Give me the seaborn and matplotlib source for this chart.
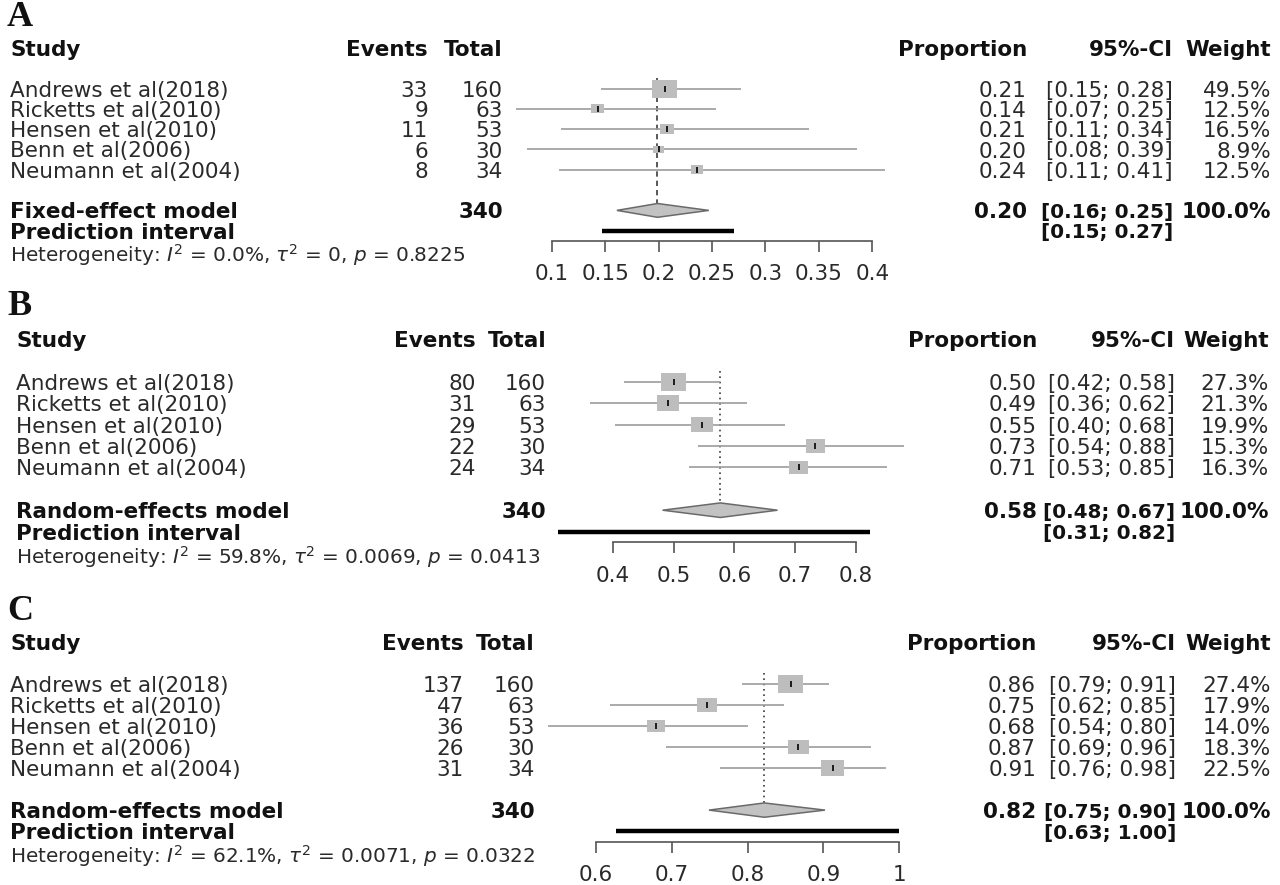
import numpy as np
import pandas as pd
import matplotlib
matplotlib.use("Agg")
import matplotlib.pyplot as plt
import seaborn as sns
from matplotlib.path import Path
from matplotlib.transforms import blended_transform_factory

# ---------------- data ----------------
studies = ["Andrews et al(2018)", "Ricketts et al(2010)", "Hensen et al(2010)",
           "Benn et al(2006)", "Neumann et al(2004)"]
totals = [160, 63, 53, 30, 34]
total_n = 340
pooled_weight = 100.0

events_a = [33, 9, 11, 6, 8]
prop_a = [0.206, 0.143, 0.208, 0.200, 0.236]
lower_a = [0.146, 0.067, 0.109, 0.077, 0.107]
upper_a = [0.277, 0.254, 0.341, 0.386, 0.412]
weight_a = [49.5, 12.5, 16.5, 8.9, 12.5]
pooled_a = [0.199, 0.161, 0.247]
pred_a = [0.147, 0.271]
het_a = ["0.0%", "0", "0.8225"]
model_a = "Fixed-effect model"
ticks_a = [0.1, 0.15, 0.2, 0.25, 0.3, 0.35, 0.4]
ticklabels_a = ["0.1", "0.15", "0.2", "0.25", "0.3", "0.35", "0.4"]

events_b = [80, 31, 29, 22, 24]
prop_b = [0.500, 0.491, 0.547, 0.733, 0.706]
lower_b = [0.419, 0.363, 0.404, 0.540, 0.526]
upper_b = [0.576, 0.621, 0.684, 0.879, 0.851]
weight_b = [27.3, 21.3, 19.9, 15.3, 16.3]
pooled_b = [0.577, 0.482, 0.671]
pred_b = [0.310, 0.823]
het_b = ["59.8%", "0.0069", "0.0413"]
model_b = "Random-effects model"
ticks_b = [0.4, 0.5, 0.6, 0.7, 0.8]
ticklabels_b = ["0.4", "0.5", "0.6", "0.7", "0.8"]

events_c = [137, 47, 36, 26, 31]
prop_c = [0.857, 0.746, 0.679, 0.867, 0.912]
lower_c = [0.792, 0.619, 0.537, 0.692, 0.763]
upper_c = [0.907, 0.848, 0.801, 0.963, 0.982]
weight_c = [27.4, 17.9, 14.0, 18.3, 22.5]
pooled_c = [0.822, 0.749, 0.902]
pred_c = [0.627, 1.000]
het_c = ["62.1%", "0.0071", "0.0322"]
model_c = "Random-effects model"
ticks_c = [0.6, 0.7, 0.8, 0.9, 1.0]
ticklabels_c = ["0.6", "0.7", "0.8", "0.9", "1"]

panels = [
    dict(letter="A", events=events_a, prop=prop_a, lower=lower_a, upper=upper_a,
         weight=weight_a, pooled=pooled_a, pred=pred_a, het=het_a, model=model_a,
         ticks=ticks_a, ticklabels=ticklabels_a),
    dict(letter="B", events=events_b, prop=prop_b, lower=lower_b, upper=upper_b,
         weight=weight_b, pooled=pooled_b, pred=pred_b, het=het_b, model=model_b,
         ticks=ticks_b, ticklabels=ticklabels_b),
    dict(letter="C", events=events_c, prop=prop_c, lower=lower_c, upper=upper_c,
         weight=weight_c, pooled=pooled_c, pred=pred_c, het=het_c, model=model_c,
         ticks=ticks_c, ticklabels=ticklabels_c),
]

# ---------------- layout (pixels) ----------------
layouts = [
    dict(header_y=48.0, step=20.3, left=10, ev_r=428, tot_r=503, prop_r=1027,
         ci_r=1173, w_r=1271, axis=(551.7, 872.3), letter_y=17, ls=(0, (3.2, 2.4))),
    dict(header_y=339.0, step=21.4, left=16, ev_r=476, tot_r=546, prop_r=1037,
         ci_r=1175, w_r=1269, axis=(612.7, 856.0), letter_y=307, ls=(0, (1.0, 2.2))),
    dict(header_y=641.7, step=21.05, left=10, ev_r=464, tot_r=535, prop_r=1036,
         ci_r=1176, w_r=1271, axis=(596.0, 899.3), letter_y=611, ls=(0, (1.0, 2.2))),
]

W, H = 1280, 885
FS = 15.5
FS_HET = 14.4
FS_BCI = 14.4
TXT = "#2a2a2a"
BOLD = "#111111"

sns.set_theme(style="white")
plt.rcParams["font.family"] = ["DejaVu Sans"]
plt.rcParams["mathtext.fontset"] = "dejavusans"

fig = plt.figure(figsize=(12.8, 8.85), dpi=100)
fig.patch.set_facecolor("white")


def fx(px):
    return px / W


def fy(py):
    return 1 - py / H


rect = Path([(-0.7, -0.5), (0.7, -0.5), (0.7, 0.5), (-0.7, 0.5), (-0.7, -0.5)], closed=True)
DH = 0.34

for P, L in zip(panels, layouts):
    y0, step = L["header_y"], L["step"]
    top = y0 + step * 1.0
    bot = y0 + step * 9.5
    axL, axR = L["axis"]
    ax = fig.add_axes([fx(axL), fy(bot), (axR - axL) / W, (bot - top) / H])
    ax.set_facecolor("none")

    rows = np.arange(2, 7)
    df = pd.DataFrame({"study": studies, "prop": P["prop"], "row": rows,
                       "weight": P["weight"], "lower": P["lower"], "upper": P["upper"]})

    # confidence intervals
    ax.hlines(df["row"], df["lower"], df["upper"], color="#9c9c9c", lw=1.2,
              zorder=1, clip_on=False)
    # pooled reference line
    est, plo, phi = P["pooled"]
    ax.vlines(est, 1.5, 8 - DH, color="#3c3c3c", lw=1.2, linestyles=[L["ls"]],
              zorder=0, clip_on=False)
    # weight boxes
    sns.scatterplot(data=df, x="prop", y="row", size="weight", sizes=(0, 324),
                    size_norm=(0, max(P["weight"])), marker=rect, color="#bdbdbd",
                    linewidth=0, legend=False, ax=ax, zorder=2, clip_on=False)
    # point estimate ticks
    ax.scatter(df["prop"], df["row"], marker="|", s=16, color="black",
               linewidths=1.2, zorder=3, clip_on=False)
    # diamond
    ax.fill([plo, est, phi, est], [8, 8 - DH, 8, 8 + DH], facecolor="#c2c2c2",
            edgecolor="#6a6a6a", lw=1.1, zorder=2, clip_on=False)
    # prediction interval
    ax.hlines(9, P["pred"][0], P["pred"][1], color="black", lw=3.2, zorder=2,
              clip_on=False)

    ax.set(xlabel="", ylabel="")
    ax.set_xlim(P["ticks"][0], P["ticks"][-1])
    ax.set_ylim(9.5, 1)
    ax.set_yticks([])
    ax.set_xticks(P["ticks"])
    ax.set_xticklabels(P["ticklabels"])
    for s in ["top", "left", "right"]:
        ax.spines[s].set_visible(False)
    ax.spines["bottom"].set_bounds(P["ticks"][0], P["ticks"][-1])
    ax.spines["bottom"].set_color("#555555")
    ax.spines["bottom"].set_linewidth(1.2)
    ax.tick_params(axis="x", bottom=True, direction="out", length=8, width=1.2,
                   color="#555555", pad=9, labelsize=FS, labelcolor=TXT)

    tr = blended_transform_factory(fig.transFigure, ax.transData)

    def put(px, row, s, ha="left", bold=False, size=FS):
        ax.text(fx(px), row, s, transform=tr, ha=ha, va="center_baseline",
                fontsize=size, fontweight="bold" if bold else "normal",
                color=BOLD if bold else TXT, clip_on=False)

    # headers
    put(L["left"], 0, "Study", bold=True)
    put(L["ev_r"], 0, "Events", ha="right", bold=True)
    put(L["tot_r"], 0, "Total", ha="right", bold=True)
    put(L["prop_r"], 0, "Proportion", ha="right", bold=True)
    put(L["ci_r"], 0, "95%-CI", ha="right", bold=True)
    put(L["w_r"], 0, "Weight", ha="right", bold=True)

    for i in range(len(studies)):
        r = rows[i]
        put(L["left"], r, studies[i])
        put(L["ev_r"], r, str(P["events"][i]), ha="right")
        put(L["tot_r"], r, str(totals[i]), ha="right")
        put(L["prop_r"], r, f"{P['prop'][i]:.2f}", ha="right")
        put(L["ci_r"], r, f"[{P['lower'][i]:.2f}; {P['upper'][i]:.2f}]", ha="right")
        put(L["w_r"], r, f"{P['weight'][i]:.1f}%", ha="right")

    put(L["left"], 8, P["model"], bold=True)
    put(L["tot_r"], 8, str(total_n), ha="right", bold=True)
    put(L["prop_r"], 8, f"{est:.2f}", ha="right", bold=True)
    put(L["ci_r"], 8, f"[{plo:.2f}; {phi:.2f}]", ha="right", bold=True, size=FS_BCI)
    put(L["w_r"], 8, f"{pooled_weight:.1f}%", ha="right", bold=True)

    put(L["left"], 9, "Prediction interval", bold=True)
    put(L["ci_r"], 9, f"[{P['pred'][0]:.2f}; {P['pred'][1]:.2f}]", ha="right",
        bold=True, size=FS_BCI)

    i2, t2, pv = P["het"]
    het_text = "Heterogeneity: $I^2$ = " + i2 + r", $\tau^2$ = " + t2 + ", $p$ = " + pv
    put(L["left"], 10.05, het_text, size=FS_HET)

    # panel letter
    fig.text(fx(7), fy(L["letter_y"]), P["letter"], ha="left", va="center",
             fontsize=26, fontweight="bold", family=["Liberation Serif", "DejaVu Serif"],
             color="#111111")

fig.savefig("out.png", dpi=100, facecolor="white")
